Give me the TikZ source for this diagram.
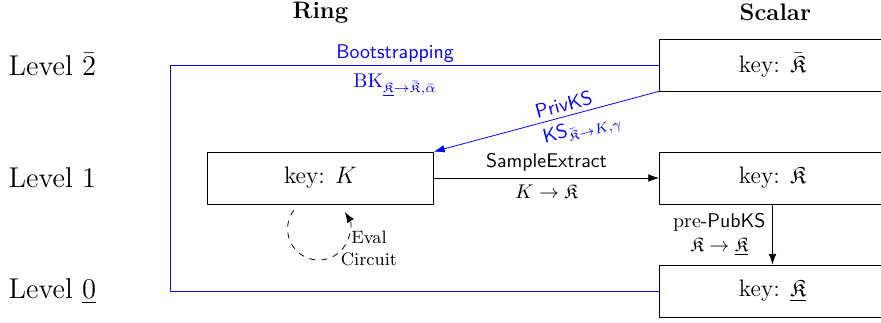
\documentclass[tikz,border=0pt]{standalone}
\usepackage{amsmath, amssymb, amsfonts}
\usepackage{tikz}
\usetikzlibrary{positioning,arrows.meta}

\begin{document}
\begin{tikzpicture}[>={Latex[length=1.9mm,width=1.35mm]},line join=bevel,
  keybox/.style={draw,minimum width=4cm,minimum height=0.92cm,font=\large},
  lvl/.style={anchor=west,font=\Large},
  hdr/.style={font=\large\bfseries},
  lbl/.style={font=\small,align=center},]
\useasboundingbox (-5.67,-2.55) rectangle (9.92,3.15);
%%
\node (hdr_ring) at (0,2.93) [hdr] {Ring};
  \node (hdr_scalar) at (8.05,2.93) [hdr] {Scalar};
  \node (lvl_top) at (-5.64,2) [lvl] {Level $\bar{2}$};
  \node (lvl_mid) at (-5.64,0) [lvl] {Level $1$};
  \node (lvl_bot) at (-5.64,-2) [lvl] {Level $\underline{0}$};
  \node (ring) at (0,0) [keybox] {key: $K$};
  \node (sc_top) at (8,2) [keybox] {key: $\bar{\mathfrak{K}}$};
  \node (sc_mid) at (8,0) [keybox] {key: $\mathfrak{K}$};
  \node (sc_bot) at (8,-2) [keybox] {key: $\underline{\mathfrak{K}}$};
  \coordinate (bs_left) at (-2.66,0);
  \coordinate (loop_start) at (-0.47,-0.57);
  \draw [blue] (sc_bot.west) -| (bs_left) |- (sc_top.west)
    node[pos=0.73,above,inner sep=1pt] {\textsf{Bootstrapping}}
    node[pos=0.73,below,inner sep=4.5pt] {$\mathrm{BK}_{\underline{\mathfrak{K}}\to\bar{\mathfrak{K}},\bar{\alpha}}$};
  \draw [blue,->] (sc_top.south west) -- (ring.north east)
    node[pos=0.41,sloped,above,inner sep=2pt] {\textsf{PrivKS}}
    node[pos=0.36,sloped,below] {$\mathsf{KS}_{\bar{\mathfrak{K}}\to K,\gamma}$};
  \draw [black,->] (ring) -- (sc_mid)
    node[midway,above] {\textsf{SampleExtract}}
    node[midway,below] {$K\to\mathfrak{K}$};
  \draw [black,->] (sc_mid) -- (sc_bot)
    node[midway,left,align=center] {pre-\textsf{PubKS}\\$\mathfrak{K}\to\underline{\mathfrak{K}}$};
  \draw [black,dashed,->] (loop_start) arc[start angle=143,end angle=393,radius=0.55cm];
  \node (eval_lbl) at (0.86,-1.24) [lbl] {Eval\\Circuit};
%
\end{tikzpicture}
\end{document}
